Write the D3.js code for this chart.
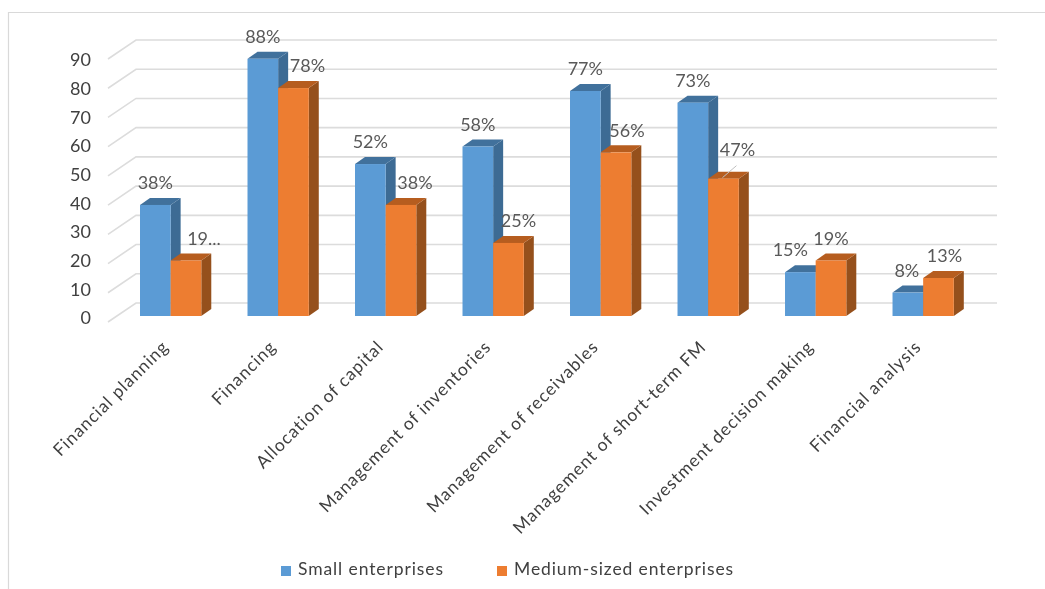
<!DOCTYPE html>
<html><head><meta charset="utf-8">
<script src="https://cdn.jsdelivr.net/npm/d3@7"></script>
<style>html,body{margin:0;background:#fff}svg{display:block;filter:blur(0.4px)}text{font-family:Lato,"Open Sans",sans-serif;fill:#595959}</style>
</head><body><svg id="c" width="1045" height="589"></svg>
<script>
const categories=["Financial planning","Financing","Allocation of capital","Management of inventories","Management of receivables","Management of short-term FM","Investment decision making","Financial analysis"];
const small=[38,88,52,58,77,73,15,8];
const medium=[19,78,38,25,56,47,19,13];
const smallLabels=["38%","88%","52%","58%","77%","73%","15%","8%"];
const mediumLabels=["19...","78%","38%","25%","56%","47%","19%","13%"];
const ticks=[0,10,20,30,40,50,60,70,80,90];
const seriesNames=["Small enterprises","Medium-sized enterprises"];
// label nudges (layout only)
const smallNudge=[[0,0],[0,0],[0,0],[0,0],[0,0],[0,0],[-10,0],[-1,0]];
const mediumNudge=[[18,0],[14,0],[14,0],[10,0],[11,0],[14,-7],[0,0],[6,0]];

const svg=d3.select("#c");
const x=d3.scaleBand().domain(categories).range([118.5,975.3]).paddingInner(0.43).paddingOuter(0.2);
const y=d3.scaleLinear().domain([0,90]).range([316,53]);
const yLabel=d3.scaleLinear().domain([0,90]).range([318,60]);
const inner=d3.scaleBand().domain([0,1]).range([0,x.bandwidth()]);
const dx=10,dy=-7,wx=28,wy=-19,gridRight=997,wallShift=6;

// frame
svg.append("path").attr("d","M8.5,589V12.5H1045").attr("fill","none").attr("stroke","#d9d9d9").attr("stroke-width",1.2);

// walls
const grid=svg.append("g").attr("stroke","#dcdcdc").attr("stroke-width",1.6).attr("fill","none");
ticks.forEach(t=>{
  const py=y(t)+wallShift;
  grid.append("path").attr("d",`M108,${py}L${108+wx},${py+wy}H${gridRight}`);
});

// axis labels
svg.append("g").selectAll("text").data(ticks).join("text")
  .attr("x",91).attr("y",t=>yLabel(t)).attr("dy","0.35em").attr("text-anchor","end")
  .attr("font-size",18).style("fill","#404040").text(d=>d);

const colours=[{f:"#5b9bd5",s:"#3d6b94",t:"#41719c"},{f:"#ed7d31",s:"#95501c",t:"#b65d1f"}];
const series=[small,medium];
series.forEach((vals,si)=>{
  const g=svg.append("g"), c=colours[si];
  vals.forEach((v,i)=>{
    const x0=x(categories[i])+inner(si), w=inner.bandwidth(), top=y(v), b=y(0);
    g.append("path").attr("fill",c.s).attr("d",`M${x0+w},${top}l${dx},${dy}V${b+dy}l${-dx},${-dy}Z`);
    g.append("path").attr("fill",c.t).attr("d",`M${x0},${top}l${dx},${dy}h${w}l${-dx},${-dy}Z`);
    g.append("rect").attr("x",x0).attr("y",top).attr("width",w).attr("height",b-top).attr("fill",c.f);
  });
});

// data labels
const labelSets=[[small,smallLabels,smallNudge],[medium,mediumLabels,mediumNudge]];
labelSets.forEach(([vals,labs,nudge],si)=>{
  svg.append("g").selectAll("text").data(vals).join("text")
    .attr("x",(v,i)=>x(categories[i])+inner(si)+inner.bandwidth()/2+nudge[i][0])
    .attr("y",(v,i)=>y(v)-22+nudge[i][1]).attr("dy","0.35em").attr("text-anchor","middle")
    .attr("font-size",18).text((v,i)=>labs[i]);
});
// leader line for 47%
const li=5, lx=x(categories[li])+inner(1)+inner.bandwidth()/2;
svg.append("path").attr("d",`M${lx-1},${y(medium[li])-1}l14,-12`).attr("stroke","#bfbfbf").attr("fill","none");

// category labels
svg.append("g").selectAll("text").data(categories).join("text")
  .attr("transform",d=>`translate(${x(d)+x.bandwidth()/2-1},${348}) rotate(-45)`)
  .attr("text-anchor","end").attr("font-size",17.5).attr("letter-spacing",0.95).style("fill","#404040").text(d=>d);

// legend
const lg=svg.append("g");
[[281,298],[497,514]].forEach(([sx,tx],i)=>{
  lg.append("rect").attr("x",sx).attr("y",566).attr("width",10).attr("height",10).attr("fill",colours[i].f);
  lg.append("text").attr("x",tx).attr("y",569).attr("dy","0.35em").attr("font-size",17.5).attr("letter-spacing",0.9).style("fill","#404040").text(seriesNames[i]);
});
</script></body></html>
